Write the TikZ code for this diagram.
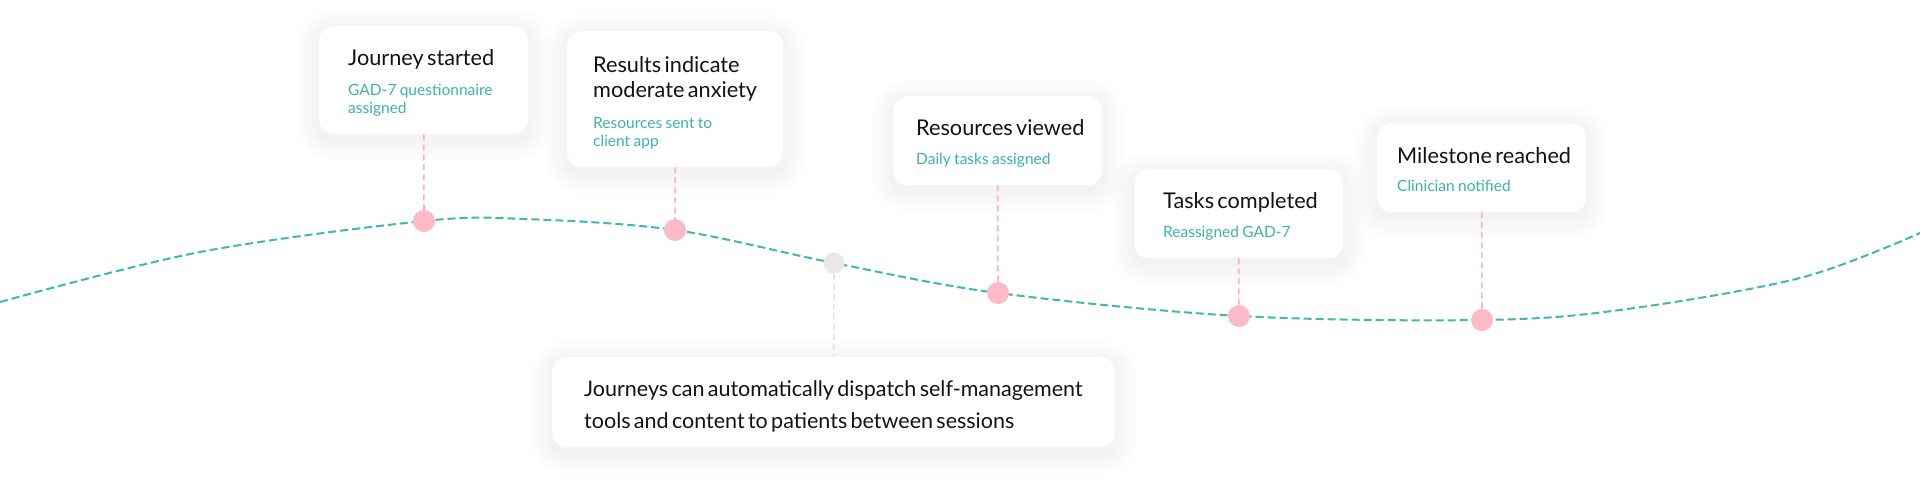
\documentclass[tikz,border=0pt]{standalone}
\usepackage{fontspec}
\setmainfont{Lato}
\usetikzlibrary{backgrounds,calc}
\definecolor{curveteal}{HTML}{3FB8B0}
\definecolor{subteal}{HTML}{3DB3AB}
\definecolor{dotpink}{HTML}{FFBAC7}
\definecolor{linkpink}{HTML}{FAB2C2}
\definecolor{dotgrey}{HTML}{E8E8E8}
\definecolor{linkgrey}{HTML}{E6E2E3}
\definecolor{ink}{HTML}{0F1515}
\definecolor{shadowc}{HTML}{404040}
\newcommand\cardbody[4][39]{%
  {\leavevmode\fontsize{21.7}{25}\selectfont\color{ink}\rule{0pt}{#1pt}#3\par}%
  \vspace{\dimexpr#2pt-18pt\relax}%
  {\leavevmode\fontsize{15.5}{18}\selectfont\color{subteal}#4\rule[-21pt]{0pt}{21pt}\par}}
\newcommand\cardshadow[1]{%
  \foreach \k [evaluate=\k as \r using 15+\k] in {2,4,...,24}
    {\fill[shadowc, opacity=0.0045, rounded corners=\r pt]
      ($(#1.north west)+(-\k,-\k+5)$) rectangle ($(#1.south east)+(\k,\k+5)$);}}
\begin{document}
\begin{tikzpicture}[x=1pt,y=-1pt,
  card/.style={fill=white, rounded corners=15pt, inner ysep=0pt, anchor=north west,
    align=left},
  dotnode/.style={circle, fill=dotpink, minimum size=22pt, inner sep=0pt},
  greydot/.style={circle, fill=dotgrey, minimum size=21pt, inner sep=0pt},
  link/.style={draw=linkpink, line width=1.6pt, dash pattern=on 6pt off 4pt},
  greylink/.style={draw=linkgrey, line width=1.6pt, dash pattern=on 6pt off 4pt},
  pathline/.style={draw=curveteal, line width=2pt, dash pattern=on 8pt off 4pt}]
\useasboundingbox (0,0) rectangle (1920,482);

\coordinate (p1) at (424,221);
\coordinate (p2) at (675,230);
\coordinate (p3) at (834,263);
\coordinate (p4) at (998,293);
\coordinate (p5) at (1239,316);
\coordinate (p6) at (1482,320);
\coordinate (s) at (0,302);
\coordinate (e) at (1920,233);

\draw[pathline] plot[smooth, tension=0.55] coordinates
  {(s) (200,252) (p1) (525,219) (p2) (p3) (p4) (p5) (p6) (1620,310) (1800,278) (e)};

\node[card, text width=151pt, inner xsep=29pt] (c1) at (319,26)
  {\cardbody{30}{\mbox{Journey started}}{\mbox{GAD-7 questionnaire}\\\mbox{assigned}}};
\node[card, text width=164pt, inner xsep=26pt] (c2) at (567,31)
  {\cardbody[41]{31}{\mbox{Results indicate}\\\mbox{moderate anxiety}}{\mbox{Resources sent to}\\\mbox{client app}}};
\node[card, text width=163pt, inner xsep=23pt] (c3) at (893,96)
  {\cardbody{29}{\mbox{Resources viewed}}{\mbox{Daily tasks assigned}}};
\node[card, text width=151pt, inner xsep=29pt] (c4) at (1134,169)
  {\cardbody{29}{\mbox{Tasks completed}}{\mbox{Reassigned GAD-7}}};
\node[card, text width=169pt, inner xsep=20pt] (c5) at (1377,123)
  {\cardbody[40]{28}{\mbox{Milestone reached}}{\mbox{Clinician notified}}};
\node[card, text width=499pt, inner xsep=32pt] (info) at (552,357)
  {{\leavevmode\fontsize{21.5}{32}\selectfont\color{ink}\rule{0pt}{39pt}\mbox{Journeys can automatically dispatch self-management}\\\mbox{tools and content to patients between sessions}\rule[-19pt]{0pt}{19pt}\par}};

\begin{pgfonlayer}{background}
  \fill[white] (0,0) rectangle (1920,482);
  \cardshadow{c1}\cardshadow{c2}\cardshadow{c3}\cardshadow{c4}\cardshadow{c5}\cardshadow{info}
\end{pgfonlayer}

\node[dotnode] (d1) at (p1) {};
\node[dotnode] (d2) at (p2) {};
\node[greydot] (d3) at (p3) {};
\node[dotnode] (d4) at (p4) {};
\node[dotnode] (d5) at (p5) {};
\node[dotnode] (d6) at (p6) {};

\draw[link] (c1.south) -- (d1);
\draw[link] (c2.south) -- (d2);
\draw[greylink] (d3) -- (info.north);
\draw[link] (c3.south) -- (d4);
\draw[link] (c4.south) -- (d5);
\draw[link] (c5.south) -- (d6);
\end{tikzpicture}
\end{document}
